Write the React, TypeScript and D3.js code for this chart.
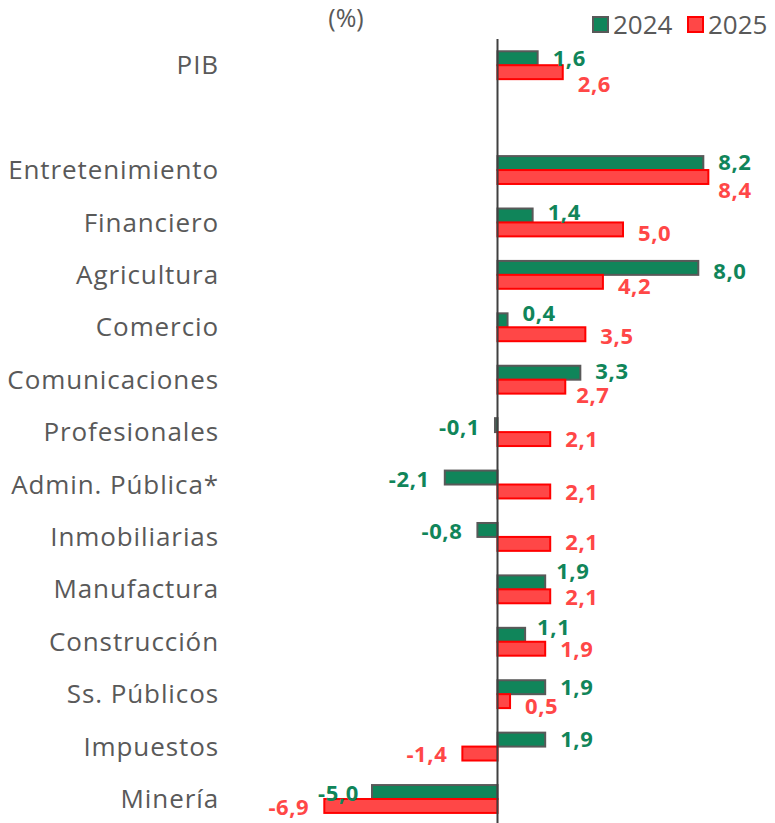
import React from "react";
import * as d3 from "d3";

const categories = [
  "PIB",
  "",
  "Entretenimiento",
  "Financiero",
  "Agricultura",
  "Comercio",
  "Comunicaciones",
  "Profesionales",
  "Admin. Pública*",
  "Inmobiliarias",
  "Manufactura",
  "Construcción",
  "Ss. Públicos",
  "Impuestos",
  "Minería",
];
const values2024: (number | null)[] = [1.6, null, 8.2, 1.4, 8.0, 0.4, 3.3, -0.1, -2.1, -0.8, 1.9, 1.1, 1.9, 1.9, -5.0];
const values2025: (number | null)[] = [2.6, null, 8.4, 5.0, 4.2, 3.5, 2.7, 2.1, 2.1, 2.1, 2.1, 1.9, 0.5, -1.4, -6.9];
const seriesNames = ["2024", "2025"];
const unitLabel = "(%)";

// label nudges [dx, dy] (layout only)
const nudge2024: [number, number][] = [[0, 0], [0, 0], [0, -1], [0, -3], [0, 3], [0, -7], [0, -1], [0, 2], [0, 2], [0, 1], [-4, -11], [-3, -7], [0, 0], [0, 0], [2, 1]];
const nudge2025: [number, number][] = [[0, 12], [0, 0], [-5, 13], [0, 4], [0, 4], [0, 2], [-4, 9], [0, 0], [0, 1], [0, -2], [0, 1], [0, 1], [0, 5], [0, 1], [0, 1]];

const W = 775;
const H = 823;
const FONT = "'Open Sans', 'Noto Sans', sans-serif";
const GREEN = "#10855A";
const GREEN_STROKE = "#595959";
const RED = "#FF4747";
const RED_STROKE = "#FF0000";
const TEXT = "#595959";

export default function App() {
  const y = d3.scaleBand<string>().domain(categories.map((c, i) => String(i))).range([39, 825.2]).paddingInner(0).paddingOuter(0);
  const inner = d3.scaleBand<string>().domain(seriesNames).range([0, y.bandwidth()]).paddingInner(0).paddingOuter(0.88);
  const x = d3.scaleLinear().domain([-7.5, 8.5]).range([497.5 - 7.5 * 25.1, 497.5 + 8.5 * 25.1]);
  const fmt = (v: number) => d3.format(".1f")(v).replace(".", ",").replace("−", "-");

  const series = [
    { name: "2024", values: values2024, fill: GREEN, stroke: GREEN_STROKE, nudge: nudge2024, labelColor: GREEN },
    { name: "2025", values: values2025, fill: RED, stroke: RED_STROKE, nudge: nudge2025, labelColor: RED },
  ];

  return (
    <svg width={W} height={H} style={{ position: "absolute", left: 0, top: 0, background: "#fff" }} fontFamily={FONT}>
      <text x={346} y={18} textAnchor="middle" dy="0.35em" fontSize={25} fill={TEXT}>{unitLabel}</text>
      {/* legend */}
      {series.map((s, i) => {
        const lx = i === 0 ? 593 : 688;
        return (
          <g key={s.name}>
            <rect x={lx} y={17} width={15} height={15} fill={s.fill} stroke={s.stroke} strokeWidth={2} />
            <text x={lx + 20} y={24.5} dy="0.35em" fontSize={26} fill={TEXT}>{s.name}</text>
          </g>
        );
      })}
      {/* category labels */}
      {categories.map((c, i) => (
        <text key={"c" + i} x={219} y={(y(String(i)) ?? 0) + y.bandwidth() / 2} dy="0.35em" textAnchor="end" fontSize={26} letterSpacing={0.9} fill={TEXT}>{c}</text>
      ))}
      {/* bars */}
      {series.map((s) =>
        s.values.map((v, i) => {
          if (v === null) return null;
          const y0 = (y(String(i)) ?? 0) + (inner(s.name) ?? 0);
          const x0 = Math.min(x(0), x(v));
          const w = Math.abs(x(v) - x(0));
          return <rect key={s.name + i} x={x0} y={y0} width={w} height={inner.bandwidth()} fill={s.fill} stroke={s.stroke} strokeWidth={2} />;
        })
      )}
      {/* axis line */}
      <line x1={x(0)} x2={x(0)} y1={39} y2={H} stroke="#404040" strokeWidth={2} />
      {/* value labels */}
      {series.map((s) =>
        s.values.map((v, i) => {
          if (v === null) return null;
          const cy = (y(String(i)) ?? 0) + (inner(s.name) ?? 0) + inner.bandwidth() / 2;
          const [dx, dy] = s.nudge[i];
          const pos = v >= 0;
          return (
            <text key={"l" + s.name + i} x={x(v) + (pos ? 15 : -15) + dx} y={cy + dy} dy="0.35em" textAnchor={pos ? "start" : "end"} fontSize={22} letterSpacing={0.6} fontWeight={700} fill={s.labelColor}>{fmt(v)}</text>
          );
        })
      )}
    </svg>
  );
}
